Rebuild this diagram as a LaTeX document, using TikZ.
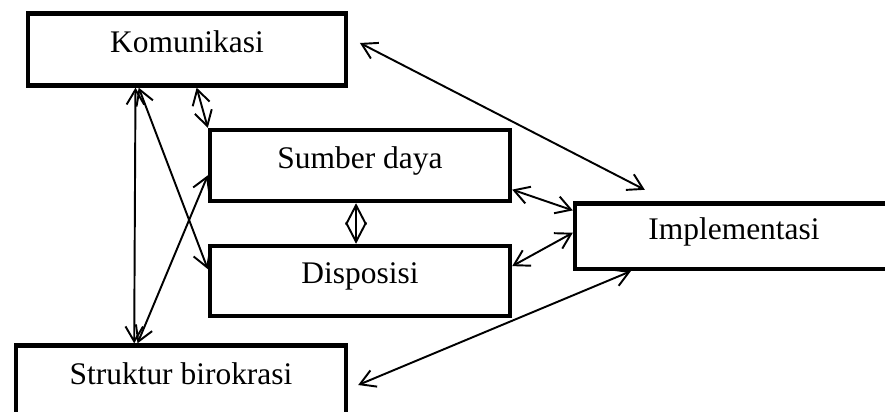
\documentclass[tikz,border=0pt]{standalone}
\usepackage{fontspec}
\setmainfont{Liberation Serif}
\usetikzlibrary{arrows.meta, calc}

\begin{document}
\begin{tikzpicture}[font=\fontsize{17.9}{21}\selectfont,
  >={Straight Barb[length=8.5pt, width=10pt]},
  box/.style={draw, line width=2.5pt, inner sep=0pt, text height=0.7em, text depth=0.38em},
  link/.style={<->, line width=1.1pt}]
\clip (0,0) rectangle (17.70,8.22);

\node[box, minimum width=6.35cm, minimum height=1.44cm] (kom) at (3.74,7.23) {Komunikasi};
\node[box, minimum width=6.00cm, minimum height=1.42cm] (sum) at (7.20,4.91) {Sumber daya};
\node[box, minimum width=6.00cm, minimum height=1.40cm] (dis) at (7.20,2.60) {Disposisi};
\node[box, minimum width=6.36cm, minimum height=1.31cm] (imp) at (14.68,3.495) {Implementasi};
\node[box, minimum width=6.60cm, minimum height=1.44cm] (str) at (3.62,0.59) {Struktur birokrasi};

\draw[link] ($(kom.south west)!0.34!(kom.south east)$) -- ($(str.north west)!0.36!(str.north east)$);
\draw[link] ($(kom.south west)!0.35!(kom.south east)$) -- ($(dis.south west)!0.66!(dis.north west)$);
\draw[link] ($(str.north west)!0.37!(str.north east)$) -- ($(sum.south west)!0.37!(sum.north west)$);
\draw[link] ($(kom.south west)!0.53!(kom.south east)$) -- (sum.north west);
\draw[link, >={Straight Barb[length=11pt, width=11.5pt]}]
  ($(sum.south west)!0.487!(sum.south east)$) -- ($(dis.north west)!0.487!(dis.north east)$);

\coordinate (komR) at ($(kom.east)+(0.24,0.13)$);
\coordinate (impT) at ($(imp.north west)+(1.44,0.23)$);
\draw[link] (komR) -- (impT);
\draw[link] ($(sum.south east)!0.18!(sum.north east)$) -- ($(imp.south west)!0.87!(imp.north west)$);
\draw[link] ($(dis.south east)!0.70!(dis.north east)$) -- ($(imp.south west)!0.55!(imp.north west)$);
\coordinate (strR) at ($(str.east)+(0.2,-0.07)$);
\draw[link] (strR) -- ($(imp.south west)!0.18!(imp.south east)$);
\end{tikzpicture}
\end{document}
